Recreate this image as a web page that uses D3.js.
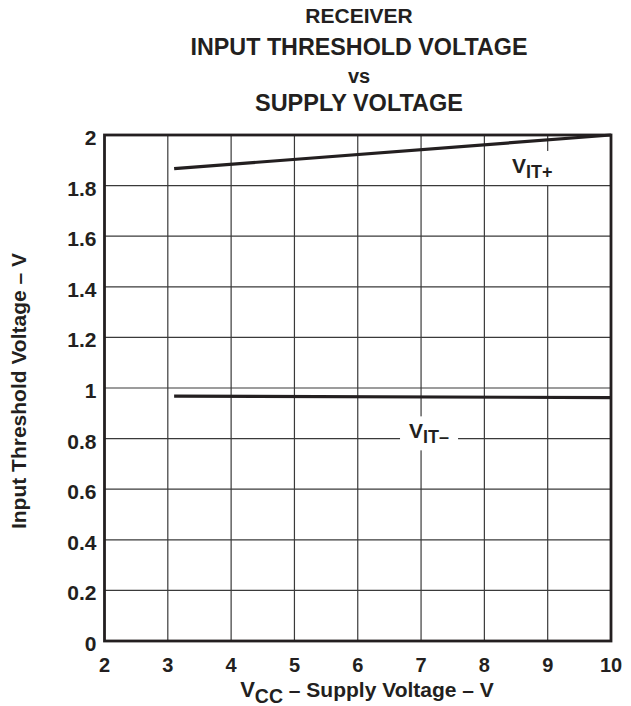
<!DOCTYPE html>
<html>
<head>
<meta charset="utf-8">
<script src="https://cdn.jsdelivr.net/npm/d3@7"></script>
<style>
  body { margin: 0; background: #fff; }
  text { font-family: "Liberation Sans", Arial, sans-serif; font-weight: bold; fill: #231f20; }
</style>
</head>
<body>
<svg></svg>
<script>
const width = 631
const height = 706

// data
const xTicks = [2, 3, 4, 5, 6, 7, 8, 9, 10]
const yTicks = [0, 0.2, 0.4, 0.6, 0.8, 1, 1.2, 1.4, 1.6, 1.8, 2]
const vcc = [3.1, 10]
const vitPlus = [1.867, 2.0]
const vitMinus = [0.968, 0.962]
const titleLines = ['RECEIVER', 'INPUT THRESHOLD VOLTAGE', 'vs', 'SUPPLY VOLTAGE']

const margin = { left: 104.5, right: 20, top: 135, bottom: 65 }
const svg = d3.select('svg').attr('width', width).attr('height', height)

const x = d3.scaleLinear().domain([2, 10]).range([margin.left, width - margin.right])
const y = d3.scaleLinear().domain([0, 2]).range([height - margin.bottom, margin.top])

// titles
const titleSizes = [21, 23.3, 20, 23.5]
const titleY = [22.5, 55, 83, 111]
svg.append('g').selectAll('text')
  .data(titleLines)
  .enter().append('text')
  .attr('x', 359)
  .attr('y', (d, i) => titleY[i])
  .attr('text-anchor', 'middle')
  .style('font-size', (d, i) => titleSizes[i] + 'px')
  .text(d => d)

// grid
const grid = svg.append('g')
grid.selectAll('.vg')
  .data(xTicks.slice(1, -1))
  .enter().append('line')
  .attr('x1', d => x(d)).attr('x2', d => x(d))
  .attr('y1', y(0)).attr('y2', y(2))
  .style('stroke', '#3a3a3a').style('stroke-width', 1.2)
grid.selectAll('.hg')
  .data(yTicks.slice(1, -1))
  .enter().append('line')
  .attr('y1', d => y(d)).attr('y2', d => y(d))
  .attr('x1', x(2)).attr('x2', x(10))
  .style('stroke', '#3a3a3a').style('stroke-width', 1.2)

// tick labels
svg.append('g').selectAll('text')
  .data(yTicks)
  .enter().append('text')
  .attr('x', x(2) - 8)
  .attr('y', d => y(d) + 10)
  .attr('text-anchor', 'end')
  .style('font-size', '21px')
  .text(d => d)
svg.append('g').selectAll('text')
  .data(xTicks)
  .enter().append('text')
  .attr('x', d => x(d))
  .attr('y', y(0) + 31)
  .attr('text-anchor', 'middle')
  .style('font-size', '20px')
  .text(d => d)

// curves
const line = d3.line().x(d => x(d[0])).y(d => y(d[1]))
;[vitPlus, vitMinus].forEach(s => {
  svg.append('path')
    .datum(vcc.map((v, i) => [v, s[i]]))
    .attr('d', line)
    .style('fill', 'none')
    .style('stroke', '#231f20')
    .style('stroke-width', 3.2)
})

// curve labels with white backing (position in data units: start x, baseline y)
function curveLabel(vx, vy, sub) {
  const g = svg.append('g')
  const rect = g.append('rect').style('fill', '#fff')
  const t = g.append('text')
    .attr('x', x(vx)).attr('y', y(vy))
    .style('font-size', '21px')
  t.append('tspan').text('V')
  t.append('tspan').attr('dy', 5).style('font-size', '18px').text(sub)
  const b = t.node().getBBox()
  rect.attr('x', b.x - 9).attr('y', b.y - 3)
    .attr('width', b.width + 18).attr('height', b.height + 6)
}
curveLabel(8.437, 1.85, 'IT+')
curveLabel(6.81, 0.801, 'IT\u2013')

// frame
svg.append('rect')
  .attr('x', x(2)).attr('y', y(2))
  .attr('width', x(10) - x(2)).attr('height', y(0) - y(2))
  .style('fill', 'none').style('stroke', '#231f20').style('stroke-width', 2.8)

// axis titles
const xt = svg.append('text')
  .attr('x', 367)
  .attr('y', 697)
  .attr('text-anchor', 'middle')
  .style('font-size', '21px')
xt.append('tspan').style('font-size', '22px').text('V')
xt.append('tspan').attr('dy', 6).style('font-size', '19.5px').text('CC')
xt.append('tspan').attr('dy', -6).text(' \u2013 Supply Voltage \u2013 V')

svg.append('text')
  .attr('transform', `translate(26,${(y(0) + y(2)) / 2 + 3}) rotate(-90)`)
  .attr('text-anchor', 'middle')
  .style('font-size', '21px')
  .text('Input Threshold Voltage \u2013 V')
</script>
</body>
</html>
